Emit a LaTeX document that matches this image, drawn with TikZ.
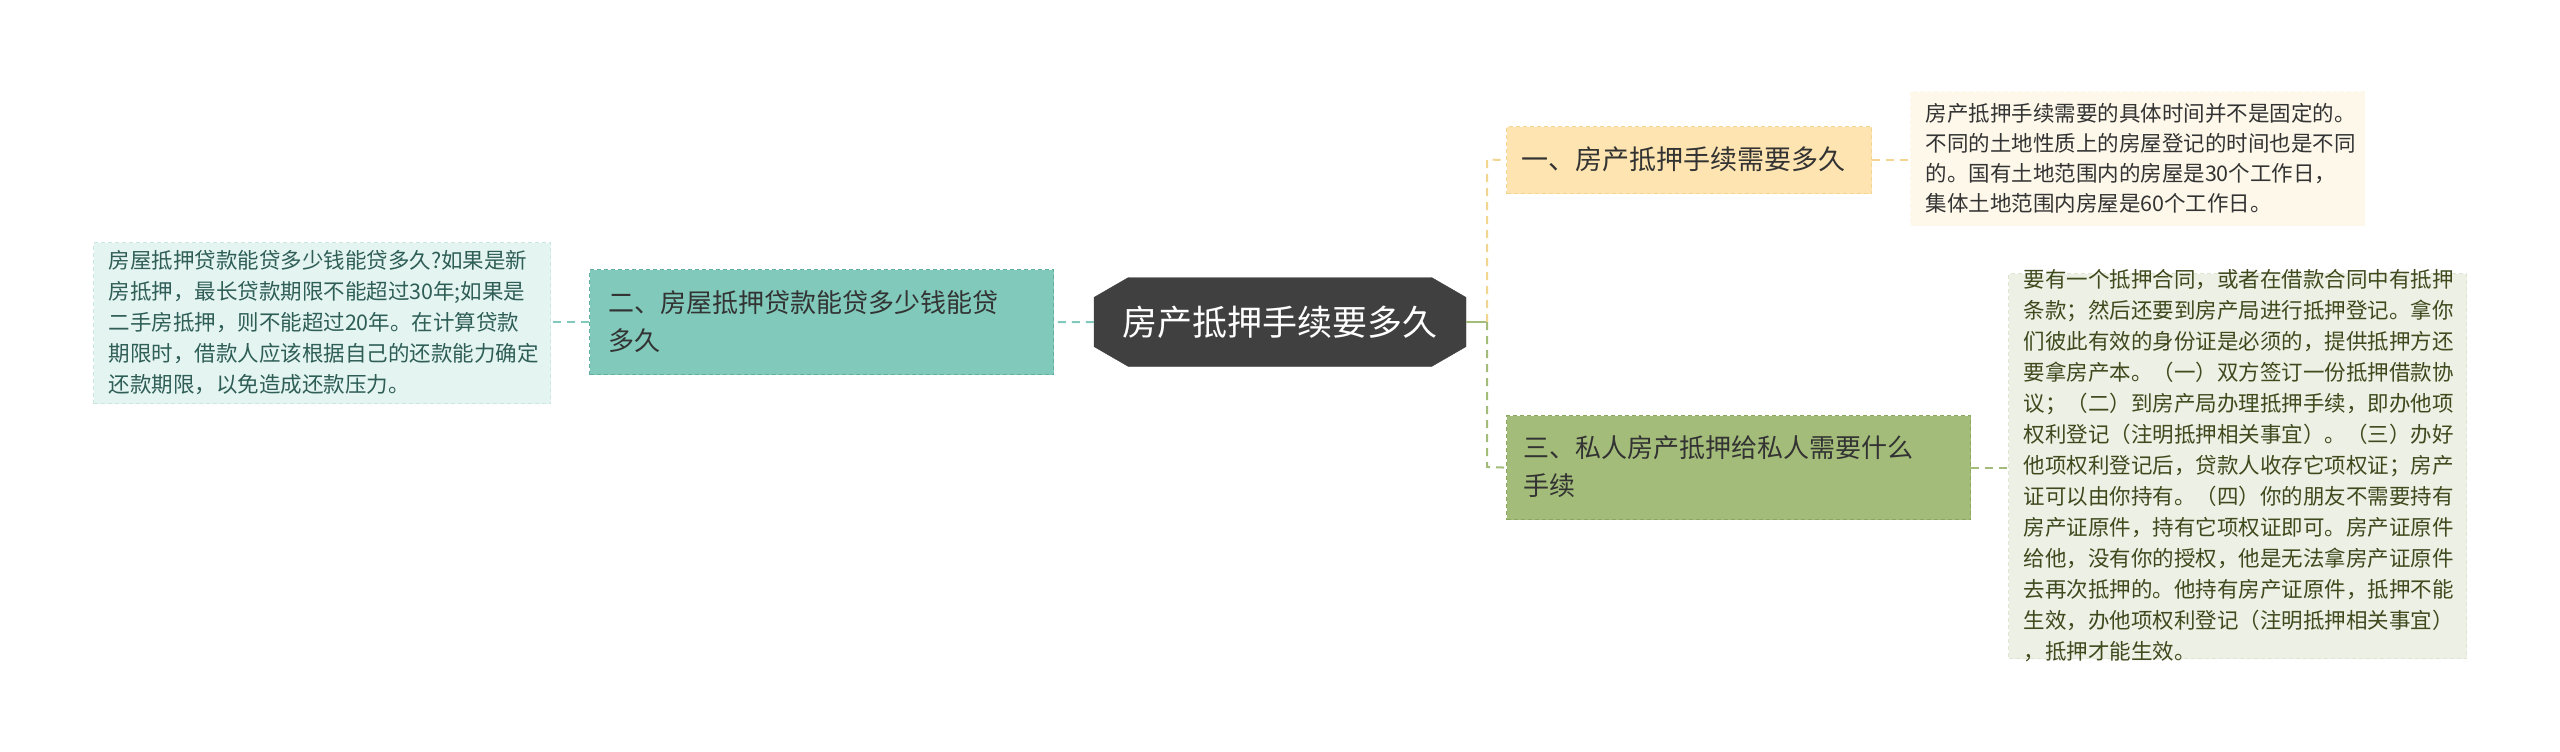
\documentclass[tikz,border=0pt]{standalone}
\usepackage{fontspec}
\setmainfont{Noto Sans CJK SC}
\usetikzlibrary{shapes.misc}
\definecolor{cdark}{HTML}{404040}
\definecolor{tealF}{HTML}{80C9BB}\definecolor{tealD}{HTML}{5FB0A2}
\definecolor{tealL}{HTML}{E4F4F1}\definecolor{tealT}{HTML}{2F5E57}
\definecolor{yelF}{HTML}{FDE4B0}\definecolor{yelD}{HTML}{F2D590}
\definecolor{yelL}{HTML}{FDF8EA}
\definecolor{grnF}{HTML}{A3BC79}\definecolor{grnD}{HTML}{8AA660}
\definecolor{grnL}{HTML}{EDF0E4}\definecolor{grnT}{HTML}{3E4A1E}
\tikzset{
 branch/.style={draw, dashed, line width=1.2pt, dash pattern=on 4pt off 3pt, anchor=north west, inner sep=0, font=\fontsize{26}{36}\selectfont, text=black!80, align=left},
 leaf/.style={draw, dashed, line width=1pt, dash pattern=on 4pt off 3pt, anchor=north west, inner sep=0, align=left},
 conn/.style={dashed, line width=2pt, dash pattern=on 8pt off 6pt}
}
\begin{document}
\begin{tikzpicture}[x=1pt,y=-1pt]
\useasboundingbox (0,0) rectangle (2560,752);
% center
\node[fill=cdark, draw=cdark, chamfered rectangle, chamfered rectangle xsep=2cm, chamfered rectangle angle=60, minimum width=372pt, minimum height=89pt, inner sep=0, text=white, font=\fontsize{35}{40}\selectfont] (c) at (1280,322) {房产抵押手续要多久};
% left branch
\node[branch, fill=tealF, draw=tealD, minimum width=464pt, minimum height=105pt, text width=440pt] (b2) at (589,269) {};
\node[anchor=west, align=left, font=\fontsize{26}{38}\selectfont, text=black!80] at (605,321.5) {二、房屋抵押贷款能贷多少钱能贷\\多久};
\node[leaf, fill=tealL, draw=tealL!80!tealD, minimum width=457pt, minimum height=161pt] (l2) at (93,242) {};
\node[anchor=west, align=left, font=\fontsize{21.5}{31}\selectfont, text=tealT] at (105,322.5) {房屋抵押贷款能贷多少钱能贷多久?如果是新\\房抵押，最长贷款期限不能超过30年;如果是\\二手房抵押，则不能超过20年。在计算贷款\\期限时，借款人应该根据自己的还款能力确定\\还款期限，以免造成还款压力。};
% top right
\node[branch, fill=yelF, draw=yelD, minimum width=365pt, minimum height=67pt] (b1) at (1506,126) {};
\node[anchor=west, font=\fontsize{27}{36}\selectfont, text=black!80] at (1518,159.5) {一、房产抵押手续需要多久};
\node[leaf, fill=yelL, draw=yelL, minimum width=454pt, minimum height=134pt] (l1) at (1910,91) {};
\node[anchor=west, align=left, font=\fontsize{21.5}{30}\selectfont, text=black!80] at (1922,158) {房产抵押手续需要的具体时间并不是固定的。\\不同的土地性质上的房屋登记的时间也是不同\\的。国有土地范围内的房屋是30个工作日，\\集体土地范围内房屋是60个工作日。};
% bottom right
\node[branch, fill=grnF, draw=grnD, minimum width=464pt, minimum height=104pt] (b3) at (1506,415) {};
\node[anchor=west, align=left, font=\fontsize{26}{38}\selectfont, text=black!80] at (1520,467) {三、私人房产抵押给私人需要什么\\手续};
\node[leaf, fill=grnL, draw=grnL!85!grnD, minimum width=458pt, minimum height=385pt] (l3) at (2008,273) {};
\node[anchor=west, align=left, font=\fontsize{21.5}{31}\selectfont, text=grnT] at (2020,465.5) {要有一个抵押合同，或者在借款合同中有抵押\\条款；然后还要到房产局进行抵押登记。拿你\\们彼此有效的身份证是必须的，提供抵押方还\\要拿房产本。（一）双方签订一份抵押借款协\\议；（二）到房产局办理抵押手续，即办他项\\权利登记（注明抵押相关事宜）。（三）办好\\他项权利登记后，贷款人收存它项权证；房产\\证可以由你持有。（四）你的朋友不需要持有\\房产证原件，持有它项权证即可。房产证原件\\给他，没有你的授权，他是无法拿房产证原件\\去再次抵押的。他持有房产证原件，抵押不能\\生效，办他项权利登记（注明抵押相关事宜）\\，抵押才能生效。};
% connectors
\coordinate (j) at (1487,322);
\draw[line width=2pt, grnF] (c.east) -- (j);
\draw[conn, yelD] (j) -- (1487,159.5) -- (b1.west);
\draw[conn, grnF] (j) -- (1487,467) -- (b3.west);
\draw[conn, yelD] (b1.east) -- (l1.west|-b1.east);
\draw[conn, grnF] (b3.east) -- (l3.west|-b3.east);
\draw[conn, tealF] (c.west) -- (b2.east);
\draw[conn, tealF] (b2.west) -- (l2.east|-b2.west);
\end{tikzpicture}
\end{document}
